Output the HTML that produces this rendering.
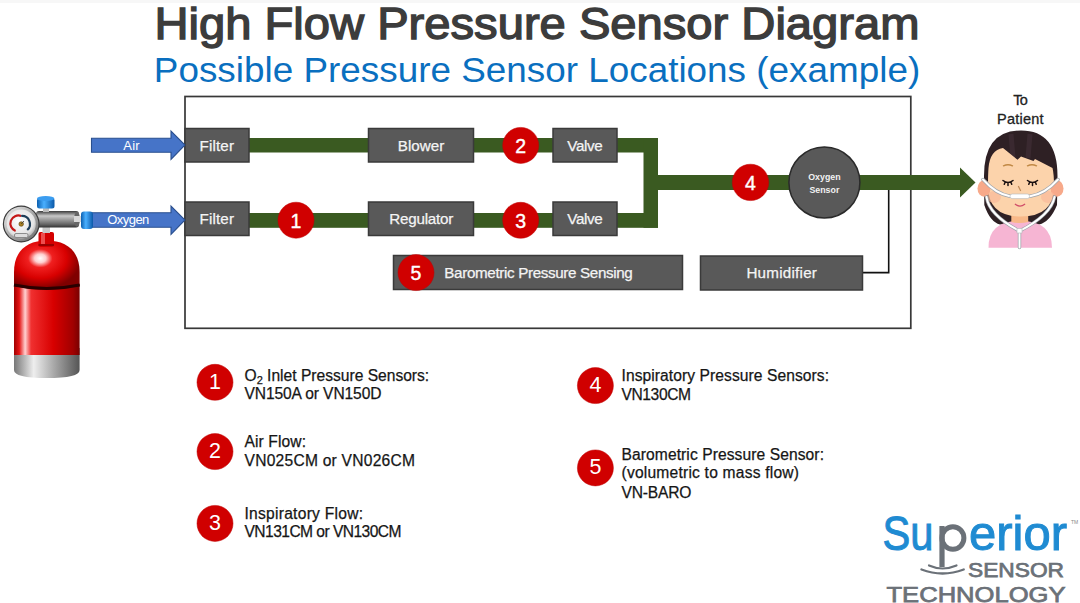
<!DOCTYPE html>
<html><head><meta charset="utf-8">
<style>
html,body{margin:0;padding:0;background:#fff;}
body{width:1080px;height:603px;overflow:hidden;position:relative;font-family:"Liberation Sans",sans-serif;}
.abs{position:absolute;white-space:nowrap;}
#title{left:157px;top:-1px;font-size:44px;font-weight:700;color:#3b3b3b;line-height:50px;}
#sub{left:157px;top:50px;font-size:36px;color:#0a6fbf;line-height:40px;letter-spacing:0.26px;}
.leg{font-size:15.7px;color:#1a1a1a;line-height:19px;}
svg{position:absolute;left:0;top:0;}
</style></head>
<body>

<div style="position:absolute;left:0;top:0;width:1080px;height:3px;background:#f7f7f7"></div>
<svg width="1080" height="603" viewBox="0 0 1080 603" font-family="Liberation Sans, sans-serif">
  <text x="154.5" y="38.7" font-size="44.3" fill="#3c3c3c" stroke="#3c3c3c" stroke-width="1.4" textLength="765" lengthAdjust="spacingAndGlyphs">High Flow Pressure Sensor Diagram</text>
  <text x="153.8" y="82" font-size="34.7" fill="#0a6fbf" textLength="766.4" lengthAdjust="spacingAndGlyphs">Possible Pressure Sensor Locations (example)</text>
  <!-- main box -->
  <rect x="185" y="96.5" width="725.8" height="231.8" fill="none" stroke="#383838" stroke-width="1.7"/>

  <!-- pipes -->
  <g fill="#3a5a21">
    <rect x="249" y="138" width="409" height="14.5"/>
    <rect x="249" y="213" width="409" height="14.8"/>
    <rect x="643.5" y="138" width="14.5" height="89.8"/>
    <rect x="658" y="175" width="303" height="15"/>
    <polygon points="960,167.5 975.5,182.5 960,197.5"/>
  </g>
  <!-- black line to humidifier -->
  <polyline points="888.7,190 888.7,272.6 862,272.6" fill="none" stroke="#111" stroke-width="1.6"/>

  <!-- boxes -->
  <g fill="#595959" stroke="#3a3a3a" stroke-width="1.5">
    <rect x="185" y="128.5" width="64" height="33.5"/>
    <rect x="185" y="202" width="64" height="33.5"/>
    <rect x="368.5" y="128.5" width="105" height="33.5"/>
    <rect x="368.5" y="202" width="105" height="33.5"/>
    <rect x="553" y="128.5" width="64" height="33.5"/>
    <rect x="553" y="202" width="64" height="33.5"/>
    <rect x="393.5" y="255.5" width="289" height="34"/>
    <rect x="700.5" y="256" width="162" height="34"/>
    <circle cx="824.4" cy="182.5" r="35.5" stroke="#2a2a2a"/>
  </g>
  <g fill="#f4f4f4" stroke="#f4f4f4" stroke-width="0.25" font-size="15.2" lengthAdjust="spacingAndGlyphs">
    <text x="199.5" y="150.8" textLength="34.5">Filter</text>
    <text x="199.5" y="223.6" textLength="34.5">Filter</text>
    <text x="397.8" y="150.7" textLength="46.5">Blower</text>
    <text x="389.3" y="223.6" textLength="64">Regulator</text>
    <text x="567.3" y="150.6" textLength="35.5">Valve</text>
    <text x="567.3" y="223.7" textLength="35.5">Valve</text>
    <text x="444.3" y="278.4" textLength="188.5">Barometric Pressure Sensing</text>
    <text x="746.4" y="278" textLength="70.5">Humidifier</text>
  </g>
  <g fill="#f2f2f2" font-size="8.8" font-weight="700" text-anchor="middle">
    <text x="824.4" y="180.3">Oxygen</text>
    <text x="824.4" y="193">Sensor</text>
  </g>
  <!-- arrows -->
  <g fill="#4674c8" stroke="#2a4f8e" stroke-width="1.1">
    <polygon points="91.5,138.3 171,138.3 171,131 185,145 171,159.4 171,152.2 91.5,152.2"/>
    <polygon points="90,212.8 171,212.8 171,206 185,220 171,234.5 171,227.2 90,227.2"/>
  </g>
  <g fill="#fff" font-size="13" lengthAdjust="spacingAndGlyphs">
    <text x="123.2" y="149.9" textLength="16.5">Air</text>
    <text x="107.3" y="223.9" textLength="42">Oxygen</text>
  </g>

  <!-- red markers -->
  <g fill="#d00000" stroke="#bf0000" stroke-width="0.5">
    <circle cx="296" cy="220.2" r="18"/>
    <circle cx="520.7" cy="145.4" r="18"/>
    <circle cx="520.7" cy="220.3" r="18"/>
    <circle cx="750.5" cy="182.4" r="18.2"/>
    <circle cx="416" cy="272.6" r="18"/>
    <circle cx="215" cy="382.3" r="18"/>
    <circle cx="215" cy="451.6" r="18"/>
    <circle cx="215" cy="523.4" r="18"/>
    <circle cx="595.4" cy="385.6" r="18"/>
    <circle cx="595.4" cy="467.9" r="18"/>
  </g>
  <g fill="#fff" stroke="#fff" stroke-width="0.4" font-size="19.5" text-anchor="middle">
    <text x="296" y="227.8">1</text>
    <text x="520.7" y="152.5">2</text>
    <text x="520.7" y="227.6">3</text>
    <text x="750.5" y="190.2">4</text>
    <text x="416" y="279.9">5</text>
  </g>
  <g fill="#fff" font-size="21.5" text-anchor="middle">
    <text x="215" y="388.6">1</text>
    <text x="215" y="457.9">2</text>
    <text x="215" y="529.7">3</text>
    <text x="595.4" y="391.9">4</text>
    <text x="595.4" y="474.2">5</text>
  </g>

  <!-- legend text -->
  <g fill="#161616" font-size="15.6" stroke="#161616" stroke-width="0.25" lengthAdjust="spacingAndGlyphs">
    <text x="244.5" y="380.5">O<tspan font-size="11" dy="3">2</tspan><tspan dy="-3"> Inlet Pressure Sensors:</tspan></text>
    <text x="244.5" y="399.4" textLength="137">VN150A or VN150D</text>
    <text x="244.5" y="447.3" textLength="61.5">Air Flow:</text>
    <text x="244.5" y="465.8" textLength="170.5">VN025CM or VN026CM</text>
    <text x="244.5" y="519" textLength="118.5">Inspiratory Flow:</text>
    <text x="244.5" y="536.9" textLength="157">VN131CM or VN130CM</text>
    <text x="621.5" y="381.2" textLength="207.5">Inspiratory Pressure Sensors:</text>
    <text x="621.5" y="400" textLength="69.5">VN130CM</text>
    <text x="621.5" y="459.5" textLength="202.5">Barometric Pressure Sensor:</text>
    <text x="621.5" y="478" textLength="177.5">(volumetric to mass flow)</text>
    <text x="621.5" y="497.5" textLength="70">VN-BARO</text>
  </g>

  <!-- To Patient -->
  <g fill="#222" stroke="#222" stroke-width="0.3" font-size="14.5" lengthAdjust="spacingAndGlyphs">
    <text x="1013.3" y="105.4" textLength="14.5">To</text>
    <text x="997" y="124.2" textLength="46.5">Patient</text>
  </g>

  <!-- oxygen tank -->
  <defs>
    <linearGradient id="tankBody" x1="0" x2="1" y1="0" y2="0">
      <stop offset="0" stop-color="#a00000"/>
      <stop offset="0.08" stop-color="#e41414"/>
      <stop offset="0.17" stop-color="#ffd0d0"/>
      <stop offset="0.26" stop-color="#f03030"/>
      <stop offset="0.6" stop-color="#d80000"/>
      <stop offset="0.9" stop-color="#a00000"/>
      <stop offset="1" stop-color="#780000"/>
    </linearGradient>
    <radialGradient id="tankDome" cx="0.4" cy="0.36" r="0.62">
      <stop offset="0" stop-color="#ffffff"/>
      <stop offset="0.14" stop-color="#ffd0d0"/>
      <stop offset="0.3" stop-color="#f02020"/>
      <stop offset="0.65" stop-color="#d80000"/>
      <stop offset="1" stop-color="#800000"/>
    </radialGradient>
    <linearGradient id="tankBase" x1="0" x2="1" y1="0" y2="0">
      <stop offset="0" stop-color="#777"/>
      <stop offset="0.3" stop-color="#eee"/>
      <stop offset="0.6" stop-color="#aaa"/>
      <stop offset="1" stop-color="#555"/>
    </linearGradient>
    <linearGradient id="regBody" x1="0" x2="0" y1="0" y2="1">
      <stop offset="0" stop-color="#3a3a3a"/>
      <stop offset="0.3" stop-color="#c8c8c8"/>
      <stop offset="0.5" stop-color="#a0a0a0"/>
      <stop offset="0.8" stop-color="#666"/>
      <stop offset="1" stop-color="#333"/>
    </linearGradient>
    <linearGradient id="blueCap" x1="0" x2="1" y1="0" y2="0">
      <stop offset="0" stop-color="#0b5fb0"/>
      <stop offset="0.4" stop-color="#4ab0ff"/>
      <stop offset="1" stop-color="#0a58a8"/>
    </linearGradient>
    <linearGradient id="bezel" x1="0" x2="1" y1="0" y2="1">
      <stop offset="0" stop-color="#f0f0f0"/>
      <stop offset="0.5" stop-color="#aaa"/>
      <stop offset="1" stop-color="#666"/>
    </linearGradient>
    <radialGradient id="gaugeFace" cx="0.45" cy="0.4" r="0.6">
      <stop offset="0" stop-color="#ffffff"/>
      <stop offset="0.8" stop-color="#e4e4e4"/>
      <stop offset="1" stop-color="#b8b8b8"/>
    </radialGradient>
  </defs>
  <g>
    <!-- tank base -->
    <path d="M14,348 L79.6,348 L79.6,370 Q79.6,378 46.7,378 Q14,378 14,370 Z" fill="url(#tankBase)"/>
    <!-- body -->
    <rect x="14" y="284" width="65.6" height="71" fill="url(#tankBody)"/>
    <!-- dome -->
    <path d="M14,286 L14,272 C14,250 28,240.5 46.7,240.5 C65.5,240.5 79.6,250 79.6,272 L79.6,286 Q46.7,294 14,286 Z" fill="url(#tankDome)"/>
    <path d="M14,285 Q46.7,292 79.6,285" fill="none" stroke="#2a0000" stroke-width="3"/>
    <!-- neck -->
    <rect x="38.5" y="232" width="15.5" height="15" rx="2" fill="#d40000"/>
    <rect x="41" y="233" width="4" height="13" fill="#ff8080" opacity="0.6"/>
    <rect x="38.5" y="244" width="15.5" height="2" fill="#900"/>
    <rect x="42.5" y="226" width="7.5" height="7" fill="#c8c8c8"/>
    <!-- regulator body -->
    <rect x="36" y="211" width="43" height="16.5" rx="3" fill="url(#regBody)"/>
    <ellipse cx="77" cy="219.3" rx="3" ry="7.5" fill="#666"/>
    <rect x="74" y="216" width="8" height="6" fill="#d8d8d8"/>
    <!-- blue knob -->
    <rect x="43" y="206" width="6" height="6" fill="#bbb"/>
    <rect x="37" y="198" width="17.5" height="10.5" rx="2.5" fill="url(#blueCap)"/>
    <ellipse cx="45.7" cy="198.5" rx="8.7" ry="2.5" fill="#3b9df0"/>
    <!-- blue connector -->
    <rect x="81" y="211.5" width="12" height="17.5" rx="3" fill="url(#blueCap)"/>
    <!-- gauge -->
    <circle cx="21.2" cy="224" r="18.4" fill="#3c3c3c"/>
    <circle cx="21.2" cy="224" r="17.2" fill="url(#bezel)"/>
    <circle cx="21.2" cy="224" r="14.6" fill="url(#gaugeFace)"/>
    <path d="M15.6,231 A8,8 0 0 1 21.2,216" fill="none" stroke="#c41818" stroke-width="2.2"/>
    <path d="M21.2,216 A8,8 0 0 1 27.2,230" fill="none" stroke="#1f3f5a" stroke-width="2.2"/>
    <circle cx="21.2" cy="224" r="2.3" fill="#a88020" stroke="#5a4010" stroke-width="0.6"/>
    <path d="M21.2,224 L24,221" stroke="#333" stroke-width="0.8"/>
    <rect x="14.5" y="233.5" width="13.5" height="4" rx="1.5" fill="#ddd" stroke="#777" stroke-width="0.8"/>
  </g>

  <!-- patient -->
  <g>
    <!-- back hair -->
    <path d="M984.3,205 L984,176 Q984,130.5 1021,130.5 Q1057.5,130.5 1057.5,176 L1057,205 Q1050,222 1039,224.5 Q1032,224 1028,222 L1012,222 Q1008,224 1000,224.5 Q990,222 984.3,205 Z" fill="#2e2024"/>
    <path d="M1011,134 L1013,158 M1030,134 L1028,158" stroke="#45323a" stroke-width="5" opacity="0.55"/>
    <!-- body -->
    <path d="M988.5,247.7 Q988.5,221 1020,220.8 Q1052,221 1052,247.7 Z" fill="#f6b5d3"/>
    <!-- neck -->
    <path d="M1011.3,205 L1028.2,205 L1028.2,222 Q1020,224 1011.3,222 Z" fill="#f8b888"/>
    <!-- face -->
    <path d="M988.5,168 Q990,150 1003,148 L1017.5,159.8 L1021,156.5 L1033.5,161 L1035,159 L1052.5,168 Q1054,174 1054,186 Q1054,216.5 1021,216.5 Q988,216.5 988,186 Q988,174 988.5,168 Z" fill="#fcd3ab"/>
    <!-- cheeks / ears -->
    <ellipse cx="984" cy="188.5" rx="6.5" ry="8.3" fill="#f7a98a"/>
    <ellipse cx="1057" cy="188.5" rx="6.5" ry="8.3" fill="#f7a98a"/>
    <ellipse cx="994" cy="197" rx="7" ry="6" fill="#f9b99a" opacity="0.7"/>
    <ellipse cx="1048" cy="197" rx="7" ry="6" fill="#f9b99a" opacity="0.7"/>
    <!-- eyebrows -->
    <path d="M1003.5,165.8 Q1008,163.8 1012.5,165.8 M1027.5,165.8 Q1032,163.8 1036.5,165.8" fill="none" stroke="#c08844" stroke-width="1.4" stroke-linecap="round"/>
    <!-- eyes -->
    <path d="M1003,180.5 Q1008,184.5 1013,180.5 M1008,183 L1008,185.5 M1005,182.5 L1004.3,184.3 M1011,182.5 L1011.7,184.3 M1027.5,180.5 Q1032.5,184.5 1037.5,180.5 M1032.5,183 L1032.5,185.5 M1029.5,182.5 L1028.8,184.3 M1035.5,182.5 L1036.2,184.3" fill="none" stroke="#1a1010" stroke-width="1.5" stroke-linecap="round"/>
    <!-- nose -->
    <path d="M1018.5,186.5 L1020.5,190.5" stroke="#c08a58" stroke-width="1.3" stroke-linecap="round"/>
    <!-- mouth -->
    <path d="M1015.3,204.3 Q1020,208 1024.7,204.3" fill="none" stroke="#d04c68" stroke-width="1.3" stroke-linecap="round"/>
    <!-- cannula -->
    <g fill="none" stroke="#a0a6ac" stroke-width="3.4" stroke-linecap="round">
      <path d="M983,179.5 Q996,194 1010,196.2 L1030,196.2 Q1045,194 1058,179.5"/>
      <path d="M986.5,197 Q989,215 1019.5,231 Q1051,215 1054.5,197"/>
      <path d="M1019.5,231 L1019.5,247.5"/>
    </g>
    <g fill="none" stroke="#ffffff" stroke-width="1.9" stroke-linecap="round">
      <path d="M983,179.5 Q996,194 1010,196.2 L1030,196.2 Q1045,194 1058,179.5"/>
      <path d="M986.5,197 Q989,215 1019.5,231 Q1051,215 1054.5,197"/>
      <path d="M1019.5,231 L1019.5,247.5"/>
    </g>
    <rect x="1010" y="194" width="19.5" height="4.6" rx="2.2" fill="#fff" stroke="#b4b8bc" stroke-width="0.6"/>
    <rect x="1017" y="228.5" width="5" height="4.5" fill="#fff" stroke="#b4b8bc" stroke-width="0.6"/>
  </g>
  <!-- logo -->
  <g>
    <text x="882.5" y="549.7" font-size="49" fill="#1f8bd2" stroke="#1f8bd2" stroke-width="1" textLength="51" lengthAdjust="spacingAndGlyphs">Su</text>
    <path d="M941.9,538 A11,11.3 0 1 0 963.9,538 A11,11.3 0 1 0 941.9,538 Z" fill="none" stroke="#6b7178" stroke-width="5"/>
    <rect x="939.4" y="526" width="5.2" height="41" fill="#6b7178"/>
    <text x="969" y="549.7" font-size="49" fill="#1f8bd2" stroke="#1f8bd2" stroke-width="1" textLength="98" lengthAdjust="spacingAndGlyphs">erior</text>
    <text x="1071" y="523.5" font-size="5" fill="#888">TM</text>
    <text x="968" y="576.6" font-size="21" fill="#6b7178" stroke="#6b7178" stroke-width="0.75" textLength="96" lengthAdjust="spacingAndGlyphs">SENSOR</text>
    <text x="886.5" y="601.5" font-size="22" fill="#6b7178" stroke="#6b7178" stroke-width="0.75" textLength="179" lengthAdjust="spacingAndGlyphs">TECHNOLOGY</text>
    <path d="M929,565.5 Q942.5,571.5 956.5,565.5" fill="none" stroke="#6b7178" stroke-width="2.2" stroke-linecap="round"/>
    <path d="M921.5,569.5 Q942.5,577.5 963.7,569.5" fill="none" stroke="#6b7178" stroke-width="2.4" stroke-linecap="round"/>
  </g>
</svg>
</body></html>
